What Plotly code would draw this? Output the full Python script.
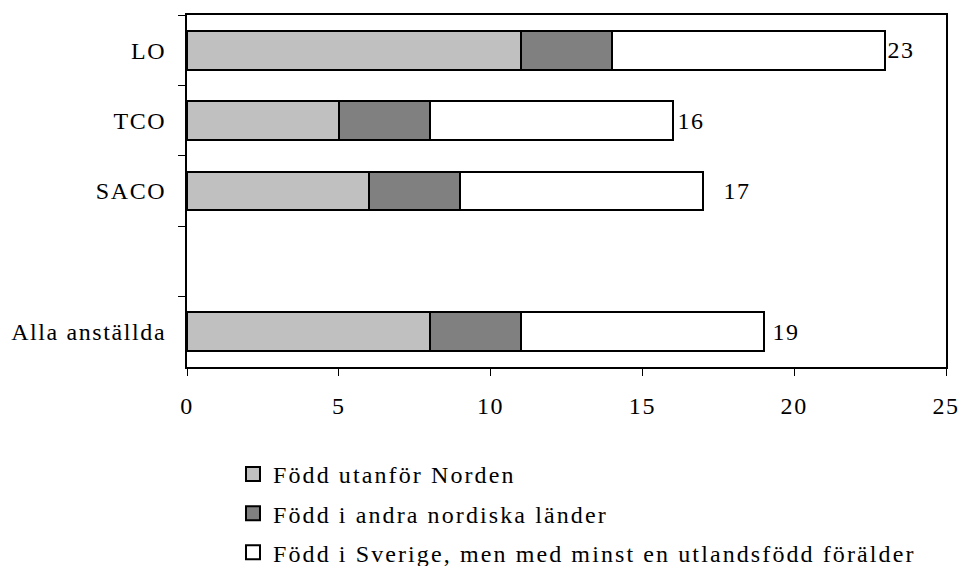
import plotly.graph_objects as go

categories = ["LO", "TCO", "SACO", " ", "Alla anställda"]
series_names = [
    "Född utanför Norden",
    "Född i andra nordiska länder",
    "Född i Sverige, men med minst en utlandsfödd förälder",
]
foreign_born = [11, 5, 6, None, 8]
nordic_born = [3, 3, 3, None, 3]
swedish_born_foreign_parent = [9, 8, 8, None, 8]
totals = [23, 16, 17, None, 19]
x_ticks = [0, 5, 10, 15, 20, 25]

colors = ["#C0C0C0", "#808080", "#FFFFFF"]
FONT = "Liberation Serif"

fig = go.Figure()
for name, vals, col in zip(series_names,
                           [foreign_born, nordic_born, swedish_born_foreign_parent],
                           colors):
    fig.add_trace(go.Bar(
        y=categories, x=vals, name=name, orientation="h",
        marker=dict(color=col, line=dict(color="black", width=2)),
        width=0.55, legendgroup=name, showlegend=False,
    ))
    # legend-only entry with a larger square symbol
    fig.add_trace(go.Scatter(
        x=[None], y=[None], mode="markers", name=name, legendgroup=name,
        marker=dict(symbol="square", size=14, color=col,
                    line=dict(color="black", width=2)),
        showlegend=True, hoverinfo="skip",
    ))

label_shift = [2, 4, 20, 0, 8]
for cat, tot, sh in zip(categories, totals, label_shift):
    if tot is None:
        continue
    fig.add_annotation(x=tot, y=cat, text=str(tot), showarrow=False,
                       xanchor="left", yanchor="middle", xshift=sh,
                       font=dict(family=FONT, size=24, color="black"))

fig.update_layout(
    barmode="stack",
    width=960, height=566,
    margin=dict(l=187, r=14, t=15, b=199, autoexpand=False),
    paper_bgcolor="white", plot_bgcolor="white",
    font=dict(family=FONT, size=24, color="black"),
    showlegend=True,
    legend=dict(
        orientation="v", x=0.0606, xanchor="left", y=-0.241, yanchor="top",
        traceorder="grouped", tracegroupgap=5,
        font=dict(family=FONT, size=24, color="black"),
        bgcolor="rgba(0,0,0,0)",
    ),
    xaxis=dict(
        range=[0, 25], tickvals=x_ticks, ticktext=[str(t) for t in x_ticks],
        showgrid=False, zeroline=False,
        showline=True, linecolor="black", linewidth=2, mirror=True,
        ticks="outside", ticklen=7, tickwidth=1, tickcolor="black",
        ticklabelstandoff=9, automargin=False,
    ),
    yaxis=dict(
        type="category", categoryorder="array", categoryarray=categories,
        autorange="reversed",
        showgrid=False, zeroline=False,
        showline=True, linecolor="black", linewidth=2, mirror=True,
        ticks="outside", ticklen=7, tickwidth=1, tickcolor="black",
        tickson="boundaries", ticklabelstandoff=14, automargin=False,
    ),
)

post = """
document.body.style.margin = '0';
document.body.style.overflow = 'hidden';
var s = document.createElement('style');
s.innerHTML = 'html, body { margin: 0 !important; padding: 0 !important; } .main-svg text { letter-spacing: 1.6px; } .legend text.legendtext { letter-spacing: 2.1px; } .legend [clip-path], .legend .scrollbox { clip-path: none !important; }';
document.head.appendChild(s);
"""
fig.write_html("out.html", post_script=post, config={"displayModeBar": False})
